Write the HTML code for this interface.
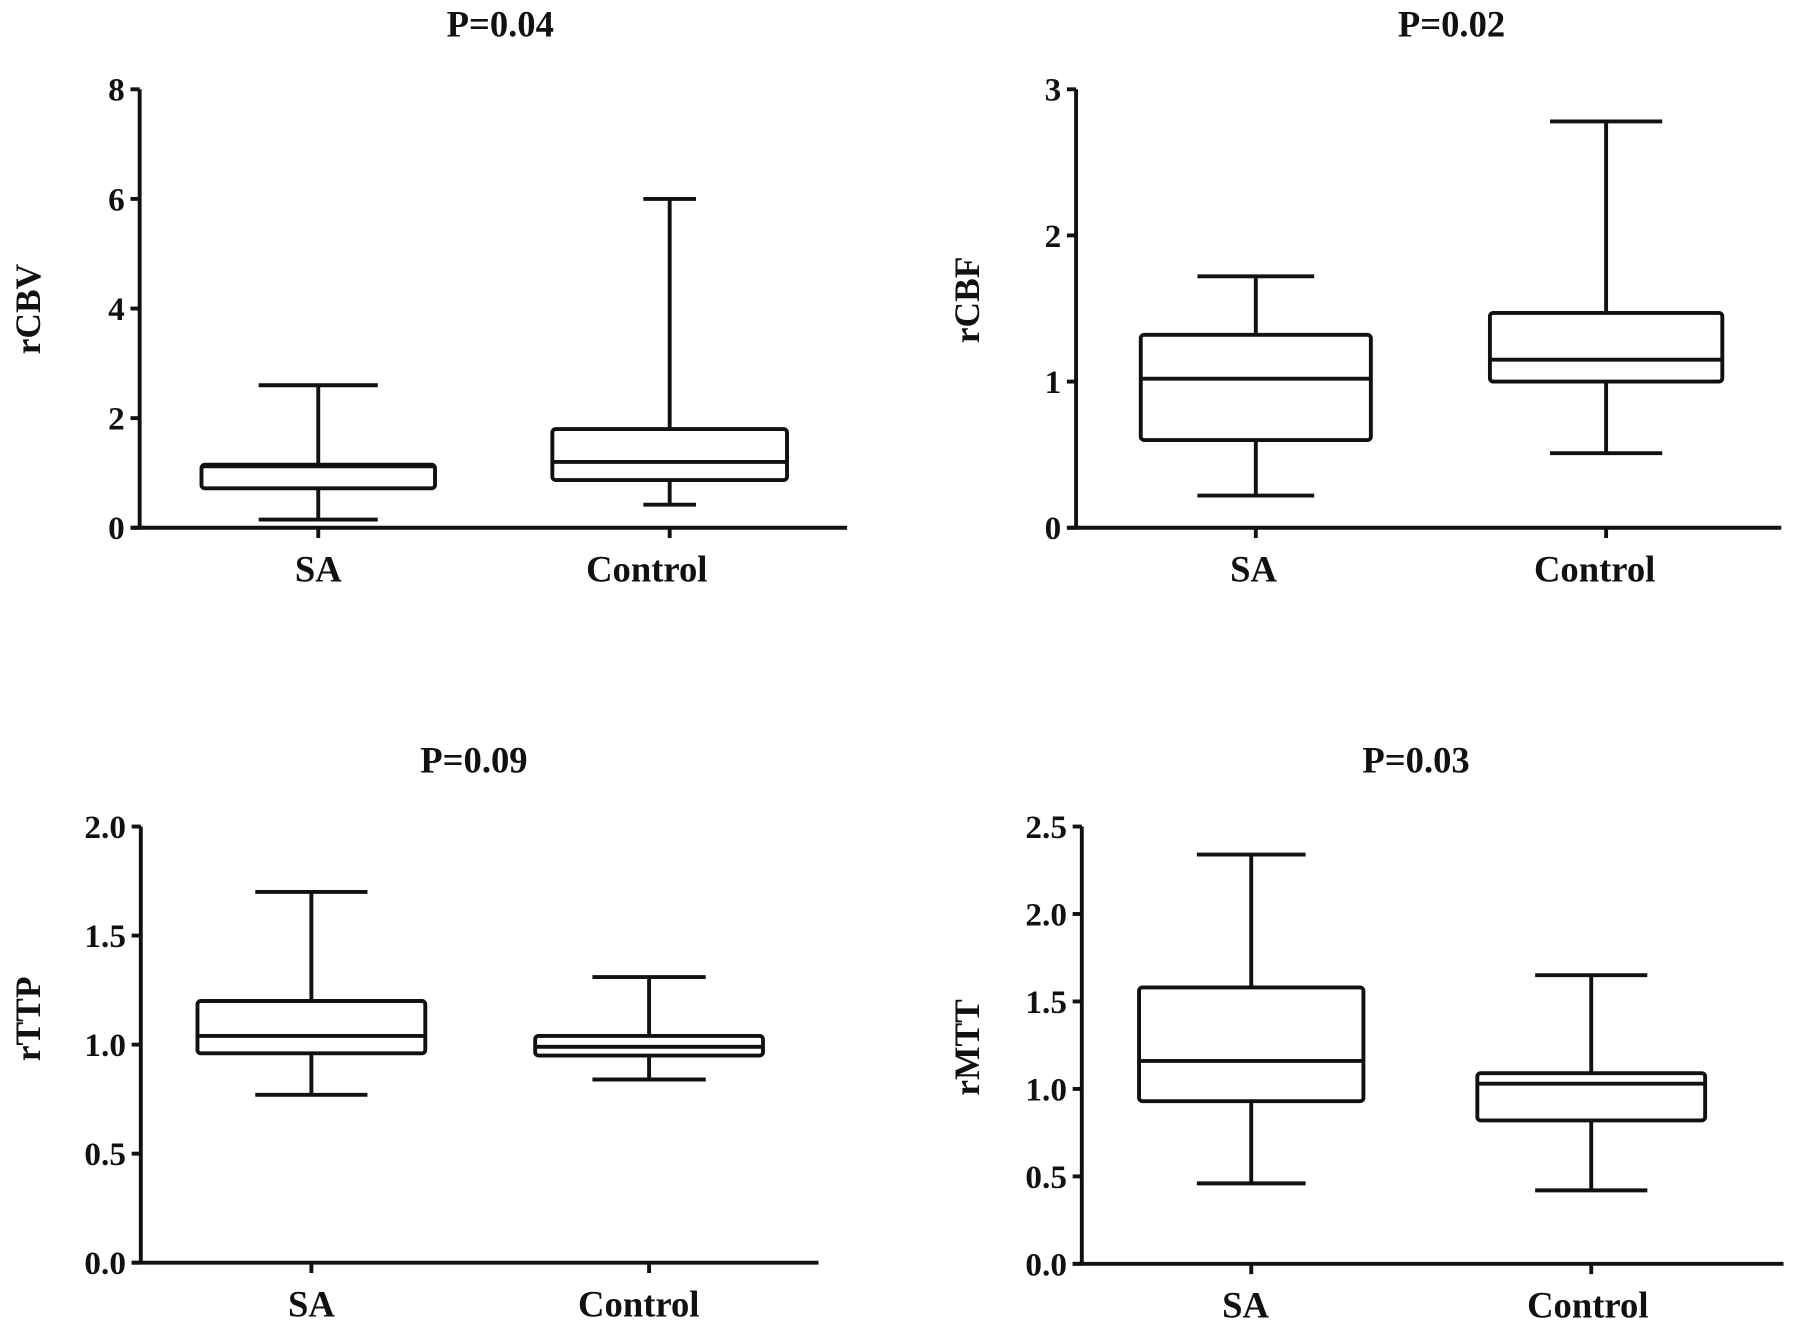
<!DOCTYPE html>
<html><head><meta charset="utf-8"><style>
html,body{margin:0;padding:0;background:#fff;}
svg{display:block;}
text{font-family:"Liberation Serif",serif;font-weight:bold;fill:#111;}
</style></head><body>
<svg id="fig" width="1795" height="1341" viewBox="0 0 1568 1171.4" preserveAspectRatio="none" xmlns="http://www.w3.org/2000/svg"></svg>
<script>
const categories = ["SA", "Control"];
const titles = ["P=0.04", "P=0.02", "P=0.09", "P=0.03"];
const yLabels = ["rCBV", "rCBF", "rTTP", "rMTT"];
const tickLabels0 = ["0","2","4","6","8"];
const tickLabels1 = ["0","1","2","3"];
const tickLabels2 = ["0.0","0.5","1.0","1.5","2.0"];
const tickLabels3 = ["0.0","0.5","1.0","1.5","2.0","2.5"];
// [min, q1, median, q3, max] per category
const rcbvSA = [0.15, 0.72, 1.12, 1.15, 2.6];
const rcbvControl = [0.42, 0.87, 1.2, 1.8, 6.0];
const rcbfSA = [0.22, 0.6, 1.02, 1.32, 1.72];
const rcbfControl = [0.51, 1.0, 1.15, 1.47, 2.78];
const rttpSA = [0.77, 0.96, 1.04, 1.2, 1.7];
const rttpControl = [0.84, 0.95, 0.99, 1.04, 1.31];
const rmttSA = [0.46, 0.93, 1.16, 1.58, 2.34];
const rmttControl = [0.42, 0.82, 1.03, 1.09, 1.65];

const panels = [
 {ax:122, x1:740, top:78, bot:461, max:8, ticks:tickLabels0, cx:[278,585], lx:[278,565], bw:[204,205], cw:[104,46], tx:437, ty:32, yl:[27,270], series:[rcbvSA, rcbvControl]},
 {ax:940, x1:1556, top:78, bot:461, max:3, ticks:tickLabels1, cx:[1097,1403], lx:[1095,1393], bw:[201,203], cw:[102,98], tx:1268, ty:32, yl:[847,262], series:[rcbfSA, rcbfControl]},
 {ax:123, x1:715, top:722, bot:1103, max:2, ticks:tickLabels2, cx:[272,567], lx:[272,558], bw:[199,199], cw:[98,99], tx:414, ty:675, yl:[27,890], series:[rttpSA, rttpControl]},
 {ax:945, x1:1558, top:722, bot:1104, max:2.5, ticks:tickLabels3, cx:[1093,1390], lx:[1088,1387], bw:[196,199], cw:[95,98], tx:1237, ty:675, yl:[847,915], series:[rmttSA, rmttControl]}
];
const NS = "http://www.w3.org/2000/svg";
const svg = document.getElementById("fig");
function mk(tag, attrs, parent){const e=document.createElementNS(NS,tag);for(const k in attrs)e.setAttribute(k,attrs[k]);(parent||svg).appendChild(e);return e;}
panels.forEach((p,pi)=>{
  const g = mk("g",{});
  
  
  const y = v => p.bot - v/p.max*(p.bot-p.top);
  const st = {stroke:"#111","stroke-width":3.4,fill:"none"};
  const t = mk("text",{x:p.tx,y:p.ty,"text-anchor":"middle","font-size":32},g); t.textContent=titles[pi];
  
  
  const yl = mk("text",{x:0,y:0,"text-anchor":"middle","font-size":31,transform:`translate(${p.yl[0]+8},${p.yl[1]}) rotate(-90)`},g); yl.textContent=yLabels[pi];
  
  
  const yaxis = mk("line",Object.assign({x1:p.ax,y1:p.top,x2:p.ax,y2:p.bot},st),g);
  
  
  const xaxis = mk("line",Object.assign({x1:p.ax-8,y1:p.bot,x2:p.x1,y2:p.bot},st),g);
  
  
  p.ticks.forEach(lbl=>{
    const v=parseFloat(lbl), yy=y(v);
    mk("line",Object.assign({x1:p.ax-8,y1:yy,x2:p.ax,y2:yy},st),g);
    const tl = mk("text",{x:p.ax-13,y:yy+10,"text-anchor":"end","font-size":29},g); tl.textContent=lbl;
    
    
  });
  categories.forEach((c,ci)=>{
    const cx=p.cx[ci], d=p.series[ci], bw=p.bw[ci], cw=p.cw[ci];
    mk("line",Object.assign({x1:cx,y1:p.bot,x2:cx,y2:p.bot+9},st),g);
    const xl = mk("text",{x:p.lx[ci],y:p.bot+47,"text-anchor":"middle","font-size":32},g); xl.textContent=c;
    
    
    const bg = mk("g",{},g);
    
    
    mk("line",Object.assign({x1:cx,y1:y(d[0]),x2:cx,y2:y(d[1])},st),bg);
    mk("line",Object.assign({x1:cx,y1:y(d[3]),x2:cx,y2:y(d[4])},st),bg);
    mk("line",Object.assign({x1:cx-cw/2,y1:y(d[0]),x2:cx+cw/2,y2:y(d[0])},st),bg);
    mk("line",Object.assign({x1:cx-cw/2,y1:y(d[4]),x2:cx+cw/2,y2:y(d[4])},st),bg);
    mk("rect",Object.assign({x:cx-bw/2,y:y(d[3]),width:bw,height:y(d[1])-y(d[3]),rx:3},st),bg);
    mk("line",Object.assign({x1:cx-bw/2,y1:y(d[2]),x2:cx+bw/2,y2:y(d[2])},st),bg);
  });
});
</script>
</body></html>
